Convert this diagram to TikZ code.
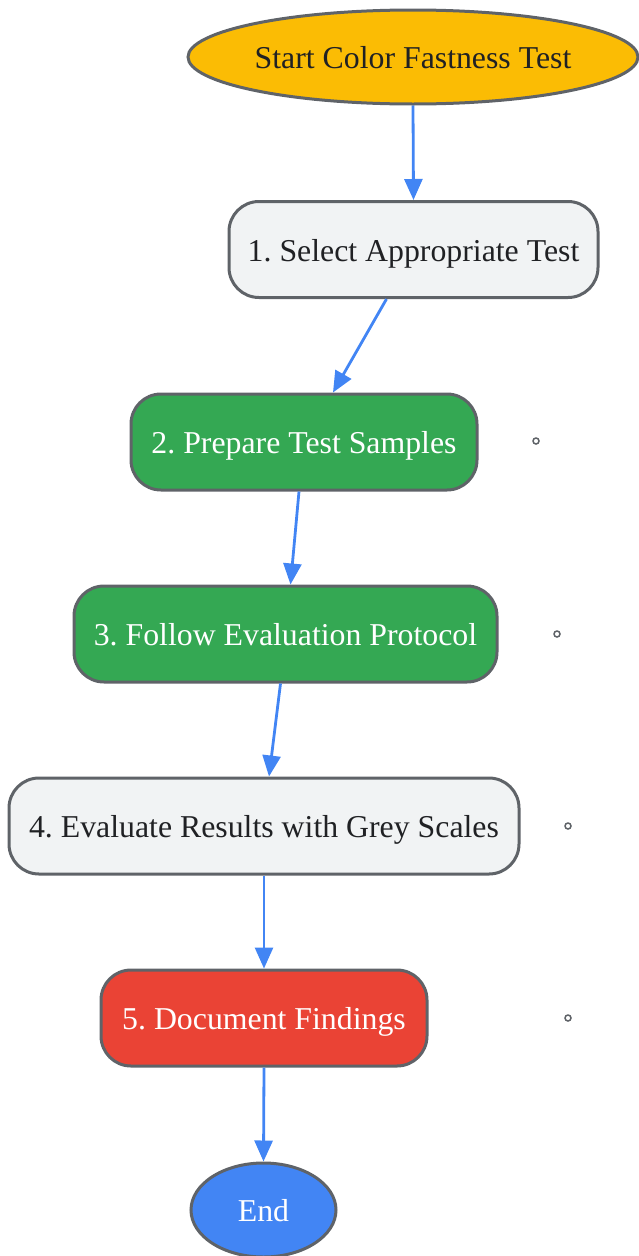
\documentclass[tikz,border=0pt]{standalone}
\usepackage{fontspec}
\setmainfont{Liberation Serif}
\usetikzlibrary{shapes.geometric,arrows.meta}
\definecolor{bordc}{HTML}{5F6368}
\definecolor{ylw}{HTML}{FBBC04}
\definecolor{lgrey}{HTML}{F1F3F4}
\definecolor{grn}{HTML}{34A853}
\definecolor{rd}{HTML}{EA4335}
\definecolor{blu}{HTML}{4285F4}
\definecolor{txt}{HTML}{202124}
\frenchspacing
\begin{document}
\begin{tikzpicture}[x=1pt,y=-1pt,
  base/.style={draw=bordc,line width=3pt,inner sep=0pt,text height=27pt,text depth=4pt,font=\fontsize{31.8}{38}\selectfont},
  oval/.style={base,ellipse},
  stepbox/.style={base,rounded corners=30pt,minimum height=96pt},
  conn/.style={draw=blu,line width=2.8pt,-{Triangle[length=21pt,width=18pt]}},
  dot/.style={circle,draw=bordc,fill=white,line width=1.5pt,minimum size=6pt,inner sep=0pt}]
\useasboundingbox (0,0) rectangle (638,1256);
\node[oval,fill=ylw,text=txt,minimum width=450pt,minimum height=94pt] (start) at (413,57) {Start Color Fastness Test};
\node[stepbox,fill=lgrey,text=txt,minimum width=369pt] (n1) at (413.5,249.5) {1. Select Appropriate Test};
\node[stepbox,fill=grn,text=white,minimum width=346pt] (n2) at (304,442) {2. Prepare Test Samples};
\node[stepbox,fill=grn,text=white,minimum width=423pt] (n3) at (285.5,634) {3. Follow Evaluation Protocol};
\node[stepbox,fill=lgrey,text=txt,minimum width=510pt] (n4) at (264,826) {4. Evaluate Results with Grey Scales};
\node[stepbox,fill=rd,text=white,minimum width=326pt] (n5) at (264,1018) {5. Document Findings};
\node[oval,fill=blu,text=white,minimum width=145pt,minimum height=94pt] (end) at (263.5,1210) {End};
\node[dot] (d2) at (536,441) {};
\node[dot] (d3) at (557,634) {};
\node[dot] (d4) at (568,826) {};
\node[dot] (d5) at (568,1018) {};
\draw[conn] (start.south) -- (n1.north);
\draw[conn] ([xshift=-27pt]n1.south) -- ([xshift=29pt]n2.north);
\draw[conn] ([xshift=-5pt]n2.south) -- ([xshift=5pt]n3.north);
\draw[conn] ([xshift=-5pt]n3.south) -- ([xshift=5pt]n4.north);
\draw[conn] (n4.south) -- (n5.north);
\draw[conn] (n5.south) -- (end.north);
\end{tikzpicture}
\end{document}
